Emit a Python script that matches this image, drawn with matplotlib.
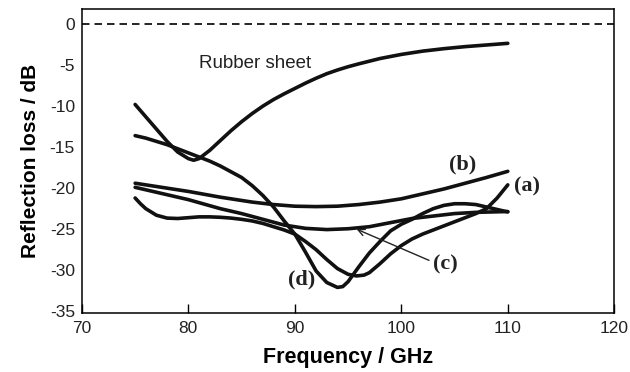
import matplotlib
matplotlib.use("Agg")
import matplotlib.pyplot as plt

plt.rcParams["axes.unicode_minus"] = False

# Reflection loss spectra (frequency in GHz, loss in dB)
rubber_f = [75, 76, 77, 78, 79, 80, 80.5, 81, 82, 83, 84, 85, 86, 87, 88, 89, 90,
            91, 92, 93, 94, 95, 96, 98, 100, 102, 104, 106, 108, 110]
rubber_rl = [-9.8, -11.3, -12.8, -14.3, -15.6, -16.4, -16.6, -16.4, -15.4, -14.2,
             -13.0, -11.9, -10.9, -10.0, -9.2, -8.5, -7.85, -7.2, -6.6, -6.05, -5.6,
             -5.2, -4.85, -4.2, -3.7, -3.3, -3.0, -2.75, -2.55, -2.35]

a_f = [75, 75.5, 76, 77, 78, 79, 80, 81, 82, 83, 84, 85, 86, 87, 88, 89, 90, 91, 92,
       93, 94, 95, 95.8, 96.5, 97, 98, 99, 100, 101, 102, 103, 104, 105, 106, 107,
       108, 109, 110]
a_rl = [-21.2, -21.9, -22.5, -23.3, -23.65, -23.7, -23.6, -23.5, -23.5, -23.55,
        -23.65, -23.8, -24.0, -24.3, -24.7, -25.1, -25.6, -26.5, -27.5, -28.7, -29.8,
        -30.5, -30.7, -30.6, -30.3, -29.2, -28.0, -27.0, -26.2, -25.6, -25.1, -24.6,
        -24.1, -23.6, -23.1, -22.5, -21.2, -19.6]

b_f = [75, 77, 80, 83, 86, 88, 90, 92, 94, 96, 98, 100, 102, 104, 106, 108, 110]
b_rl = [-19.4, -19.8, -20.4, -21.1, -21.7, -22.0, -22.2, -22.25, -22.2, -22.0,
        -21.7, -21.3, -20.7, -20.1, -19.4, -18.7, -17.95]

c_f = [75, 77, 80, 83, 85, 87, 89, 91, 93, 95, 97, 99, 101, 103, 105, 107, 110]
c_rl = [-19.9, -20.5, -21.4, -22.5, -23.1, -23.8, -24.5, -24.9, -25.05, -24.95,
        -24.7, -24.2, -23.7, -23.4, -23.1, -22.95, -22.85]

d_f = [75, 76, 77, 78, 79, 80, 81, 82, 83, 84, 85, 86, 87, 88, 89, 90, 91, 92, 93,
       94, 94.5, 95, 96, 97, 98, 99, 100, 101, 102, 103, 104, 105, 106, 107, 108,
       109, 110]
d_rl = [-13.6, -13.9, -14.3, -14.7, -15.2, -15.7, -16.2, -16.7, -17.3, -18.0, -18.7,
        -19.7, -20.9, -22.3, -24.0, -25.6, -27.8, -30.1, -31.5, -32.1, -32.0, -31.4,
        -29.6, -27.9, -26.5, -25.2, -24.4, -23.8, -23.1, -22.5, -22.1, -21.9, -21.9,
        -22.0, -22.3, -22.6, -22.9]

x_ticks = [70, 80, 90, 100, 110, 120]
y_ticks = [0, -5, -10, -15, -20, -25, -30, -35]

sans = ["Liberation Sans", "DejaVu Sans"]
serif = ["Liberation Serif", "DejaVu Serif"]

fig = plt.figure(figsize=(6.3, 3.72), dpi=100)
ax = fig.add_axes([0.130, 0.159, 0.845, 0.816])

ax.axhline(0, color="black", lw=1.2, ls=(0, (4.5, 3)))

lw = 2.6
for f, rl in [(rubber_f, rubber_rl), (a_f, a_rl), (b_f, b_rl), (c_f, c_rl), (d_f, d_rl)]:
    ax.plot(f, rl, color="#111111", lw=lw, solid_joinstyle="round",
            solid_capstyle="round")

ax.set_xlim(70, 120)
ax.set_ylim(-35.2, 1.8)
ax.set_xticks(x_ticks)
ax.set_yticks(y_ticks)
ax.tick_params(axis="x", direction="in", length=6.5, width=1.0, pad=6,
               labelsize=12.5)
ax.tick_params(axis="y", length=0, pad=5, labelsize=12.5)
for lab in ax.get_xticklabels() + ax.get_yticklabels():
    lab.set_family(sans)
    lab.set_color("#222222")
for sp in ax.spines.values():
    sp.set_linewidth(1.1)

ax.set_xlabel("Frequency / GHz", family=sans, fontsize=15.5, fontweight="bold",
              labelpad=8)
ax.set_ylabel("Reflection loss / dB", family=sans, fontsize=15, fontweight="bold",
              labelpad=7)

ax.text(86.3, -4.75, "Rubber sheet", family=sans, fontsize=13.5, color="#222222",
        ha="center", va="center")

lbl = dict(family=serif, fontsize=16, fontweight="bold", va="center",
           color="#222222")
ax.text(110.6, -19.75, "(a)", ha="left", **lbl)
ax.text(105.8, -17.1, "(b)", ha="center", **lbl)
ax.text(104.1, -29.3, "(c)", ha="center", **lbl)
ax.text(90.6, -31.1, "(d)", ha="center", **lbl)

ax.annotate("", xy=(95.8, -25.0), xytext=(102.6, -28.8),
            arrowprops=dict(arrowstyle="->", color="#222222", lw=1.0,
                            mutation_scale=12, shrinkA=0, shrinkB=0))

fig.savefig("out.png", dpi=100)
